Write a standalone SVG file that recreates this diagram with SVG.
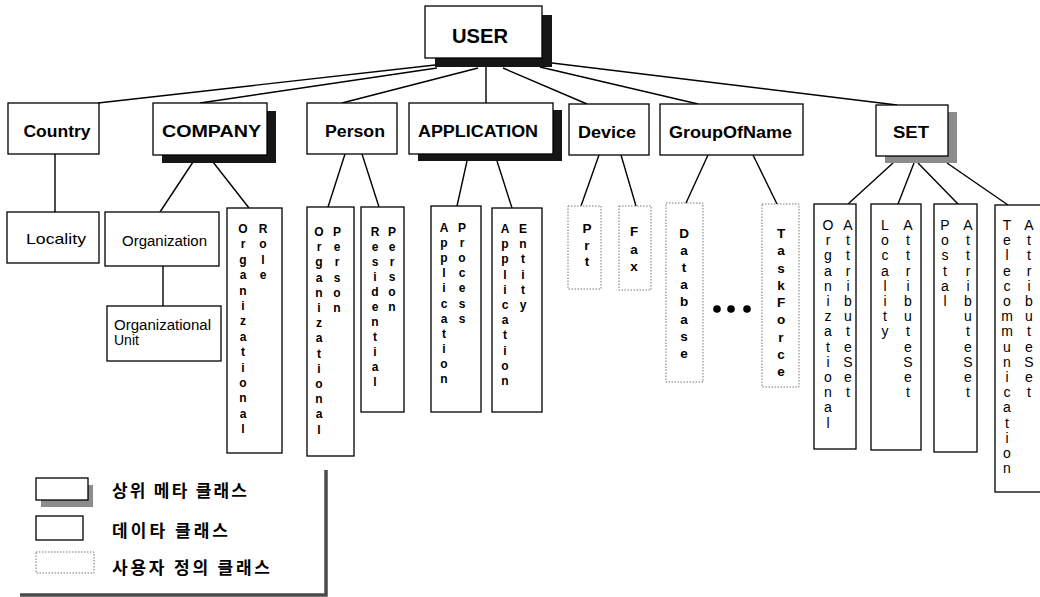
<svg xmlns="http://www.w3.org/2000/svg" width="1040" height="597" viewBox="0 0 1040 597">
  <style>
    .box { fill: #fff; stroke: #000; stroke-width: 1.3; }
    .ubox { fill: #fff; stroke: #777; stroke-width: 1; stroke-dasharray: 1.5 1.5; }
    .shd { fill: #161616; }
    .shg { fill: #8c8c8c; }
    .lbl { font-family: "Liberation Sans", Arial, sans-serif; font-weight: bold; font-size: 16px; fill: #000; text-anchor: middle; }
    .sub { font-family: "Liberation Sans", Arial, sans-serif; font-size: 14px; fill: #000; }
    .v12 { font-family: "Liberation Sans", Arial, sans-serif; font-weight: bold; font-size: 12px; fill: #000; text-anchor: middle; }
    .v14 { font-family: "Liberation Sans", Arial, sans-serif; font-weight: bold; font-size: 13.5px; fill: #000; text-anchor: middle; }
    .vs { font-family: "Liberation Sans", Arial, sans-serif; font-size: 14px; fill: #000; text-anchor: middle; }
    .kr { font-family: "Noto Sans CJK KR", sans-serif; font-size: 17px; font-weight: 600; fill: #000; }
    .edge { stroke: #000; stroke-width: 1.4; fill: none; }
  </style>
  <rect width="1040" height="597" fill="#fff"/>

  <!-- connectors -->
  <g id="connectors" class="edge">
    <line x1="435" y1="65" x2="98" y2="103"/>
    <line x1="437" y1="68" x2="200" y2="103"/>
    <line x1="478" y1="68" x2="342" y2="103"/>
    <line x1="486" y1="67" x2="486" y2="103"/>
    <line x1="503" y1="68" x2="587" y2="104"/>
    <line x1="540" y1="67" x2="698" y2="104"/>
    <line x1="552" y1="63" x2="897" y2="105"/>
    <line x1="55" y1="154" x2="55" y2="212"/>
    <line x1="193" y1="162" x2="160" y2="212"/>
    <line x1="213" y1="162" x2="249" y2="208"/>
    <line x1="163" y1="266" x2="163" y2="306"/>
    <line x1="345" y1="154" x2="328" y2="207"/>
    <line x1="362" y1="154" x2="379" y2="207"/>
    <line x1="467" y1="161" x2="457" y2="206"/>
    <line x1="497" y1="161" x2="512" y2="208"/>
    <line x1="599" y1="155" x2="581" y2="206"/>
    <line x1="621" y1="155" x2="636" y2="206"/>
    <line x1="708" y1="155" x2="686" y2="203"/>
    <line x1="753" y1="155" x2="777" y2="204"/>
    <line x1="893" y1="163" x2="848" y2="204"/>
    <line x1="914" y1="163" x2="898" y2="204"/>
    <line x1="918" y1="163" x2="958" y2="204"/>
    <line x1="947" y1="163" x2="1008" y2="205"/>
  </g>

  <!-- meta classes -->
  <g id="user">
    <rect class="shd" x="435" y="15" width="117" height="52"/>
    <rect class="box" x="425" y="6" width="117" height="52"/>
    <text class="lbl" x="480" y="43" style="font-size:20px" textLength="56" lengthAdjust="spacingAndGlyphs">USER</text>
  </g>
  <g id="company">
    <rect class="shd" x="162" y="111" width="114" height="52"/>
    <rect class="box" x="153" y="103" width="114" height="52"/>
    <text class="lbl" x="211.5" y="137" textLength="99" lengthAdjust="spacingAndGlyphs">COMPANY</text>
  </g>
  <g id="application">
    <rect class="shd" x="418" y="110" width="144" height="51"/>
    <rect class="box" x="409" y="103" width="144" height="51"/>
    <text class="lbl" x="478" y="137" textLength="120" lengthAdjust="spacingAndGlyphs">APPLICATION</text>
  </g>
  <g id="set">
    <rect class="shg" x="885" y="112" width="72" height="51"/>
    <rect class="box" x="876" y="105" width="72" height="51"/>
    <text class="lbl" x="911" y="138" textLength="36" lengthAdjust="spacingAndGlyphs">SET</text>
  </g>

  <!-- data classes -->
  <g id="country">
    <rect class="box" x="8" y="103" width="91" height="51"/>
    <text class="lbl" x="57" y="137" textLength="67" lengthAdjust="spacingAndGlyphs">Country</text>
  </g>
  <g id="person">
    <rect class="box" x="307" y="103" width="90" height="51"/>
    <text class="lbl" x="355" y="137" textLength="60" lengthAdjust="spacingAndGlyphs">Person</text>
  </g>
  <g id="device">
    <rect class="box" x="569" y="104" width="80" height="51"/>
    <text class="lbl" x="607" y="138" textLength="58" lengthAdjust="spacingAndGlyphs">Device</text>
  </g>
  <g id="groupofname">
    <rect class="box" x="660" y="104" width="143" height="51"/>
    <text class="lbl" x="730.5" y="138" textLength="123" lengthAdjust="spacingAndGlyphs">GroupOfName</text>
  </g>
  <g id="locality">
    <rect class="box" x="7" y="212" width="92" height="51"/>
    <text class="sub" x="26" y="244" style="font-size:15px" textLength="60" lengthAdjust="spacingAndGlyphs">Locality</text>
  </g>
  <g id="organization">
    <rect class="box" x="105" y="212" width="114" height="54"/>
    <text class="sub" x="122" y="246" textLength="85" lengthAdjust="spacingAndGlyphs">Organization</text>
  </g>
  <g id="organizational-unit">
    <rect class="box" x="107" y="306" width="114" height="55"/>
    <text class="sub" x="114" y="330" textLength="97" lengthAdjust="spacingAndGlyphs">Organizational</text>
    <text class="sub" x="114" y="345">Unit</text>
  </g>
  <g id="organizational-role">
    <rect class="box" x="227" y="208" width="55" height="245"/>
    <text class="v12" x="243 243 243 243 243 243 243 243 243 243 243 243 243 243" y="233 248.4 263.8 279.2 294.6 310 325.4 340.8 356.2 371.6 387 402.4 417.8 433.2">Organizational</text>
    <text class="v12" x="263 263 263 263" y="233 248.4 263.8 279.2">Role</text>
  </g>
  <g id="organizational-person">
    <rect class="box" x="307" y="207" width="47" height="249"/>
    <text class="v12" x="319 319 319 319 319 319 319 319 319 319 319 319 319 319" y="236 251.2 266.4 281.6 296.8 312 327.2 342.4 357.6 372.8 388 403.2 418.4 433.6">Organizational</text>
    <text class="v12" x="337 337 337 337 337 337" y="236 251.2 266.4 281.6 296.8 312">Person</text>
  </g>
  <g id="residential-person">
    <rect class="box" x="361" y="207" width="43" height="205"/>
    <text class="v12" x="375 375 375 375 375 375 375 375 375 375 375" y="236 251 266 281 296 311 326 341 356 371 386">Residential</text>
    <text class="v12" x="392 392 392 392 392 392" y="236 251 266 281 296 311">Person</text>
  </g>
  <g id="application-process">
    <rect class="box" x="431" y="206" width="50" height="206"/>
    <text class="v12" x="444 444 444 444 444 444 444 444 444 444 444" y="232 247.1 262.2 277.3 292.4 307.5 322.6 337.7 352.8 367.9 383">Application</text>
    <text class="v12" x="462 462 462 462 462 462 462" y="232 247.1 262.2 277.3 292.4 307.5 322.6">Process</text>
  </g>
  <g id="application-entity">
    <rect class="box" x="492" y="208" width="50" height="204"/>
    <text class="v12" x="505 505 505 505 505 505 505 505 505 505 505" y="233 248.2 263.4 278.6 293.8 309 324.2 339.4 354.6 369.8 385">Application</text>
    <text class="v12" x="523 523 523 523 523 523" y="233 248.2 263.4 278.6 293.8 309">Entity</text>
  </g>
  <g id="organizational-attributeset">
    <rect class="box" x="814" y="204" width="42" height="245"/>
    <text class="vs" x="828 828 828 828 828 828 828 828 828 828 828 828 828 828" y="230 245.2 260.4 275.6 290.8 306 321.2 336.4 351.6 366.8 382 397.2 412.4 427.6">Organizational</text>
    <text class="vs" x="848 848 848 848 848 848 848 848 848 848 848 848" y="230 245.2 260.4 275.6 290.8 306 321.2 336.4 351.6 366.8 382 397.2">AttributeSet</text>
  </g>
  <g id="locality-attributeset">
    <rect class="box" x="871" y="204" width="50" height="246"/>
    <text class="vs" x="885 885 885 885 885 885 885 885" y="230 245.2 260.4 275.6 290.8 306 321.2 336.4">Locality</text>
    <text class="vs" x="908 908 908 908 908 908 908 908 908 908 908 908" y="230 245.2 260.4 275.6 290.8 306 321.2 336.4 351.6 366.8 382 397.2">AttributeSet</text>
  </g>
  <g id="postal-attributeset">
    <rect class="box" x="934" y="204" width="43" height="248"/>
    <text class="vs" x="945 945 945 945 945 945" y="230 245.2 260.4 275.6 290.8 306">Postal</text>
    <text class="vs" x="968 968 968 968 968 968 968 968 968 968 968 968" y="230 245.2 260.4 275.6 290.8 306 321.2 336.4 351.6 366.8 382 397.2">AttributeSet</text>
  </g>
  <g id="telecommunication-attributeset">
    <rect class="box" x="995" y="205" width="52" height="287"/>
    <text class="vs" x="1007 1007 1007 1007 1007 1007 1007 1007 1007 1007 1007 1007 1007 1007 1007 1007 1007" y="230 245.2 260.4 275.6 290.8 306 321.2 336.4 351.6 366.8 382 397.2 412.4 427.6 442.8 458 473.2">Telecommunication</text>
    <text class="vs" x="1029 1029 1029 1029 1029 1029 1029 1029 1029 1029 1029 1029" y="230 245.2 260.4 275.6 290.8 306 321.2 336.4 351.6 366.8 382 397.2">AttributeSet</text>
  </g>

  <!-- user-defined classes -->
  <g id="prt">
    <rect class="ubox" x="568" y="206" width="33" height="83"/>
    <text class="v14" x="587 587 587" y="233 249.5 266">Prt</text>
  </g>
  <g id="fax">
    <rect class="ubox" x="619" y="206" width="32" height="84"/>
    <text class="v14" x="634 634 634" y="236 253.5 271">Fax</text>
  </g>
  <g id="database">
    <rect class="ubox" x="666" y="203" width="37" height="179"/>
    <text class="v14" x="684 684 684 684 684 684 684 684" y="238 255.1 272.2 289.3 306.4 323.5 340.6 357.7">Database</text>
  </g>
  <g id="taskforce">
    <rect class="ubox" x="762" y="204" width="37" height="183"/>
    <text class="v14" x="781 781 781 781 781 781 781 781 781" y="238 255.25 272.5 289.75 307 324.25 341.5 358.75 376">TaskForce</text>
  </g>
  <g id="ellipsis" fill="#000">
    <circle cx="717" cy="309" r="3.8"/>
    <circle cx="731" cy="309" r="3.8"/>
    <circle cx="747" cy="309" r="3.8"/>
  </g>

  <!-- legend -->
  <g id="legend">
    <path d="M326 470 V595 H20" fill="none" stroke="#4a4a4a" stroke-width="3.5"/>
    <rect class="shg" x="41" y="485" width="52" height="22"/>
    <rect class="box" x="36" y="478" width="52" height="22"/>
    <text class="kr" x="112" y="497" textLength="135">상위 메타 클래스</text>
    <rect class="box" x="36" y="516" width="47" height="24"/>
    <text class="kr" x="112" y="537" textLength="116">데이타 클래스</text>
    <rect class="ubox" x="36" y="552" width="58" height="21"/>
    <text class="kr" x="112" y="574" textLength="158">사용자 정의 클래스</text>
  </g>
</svg>
